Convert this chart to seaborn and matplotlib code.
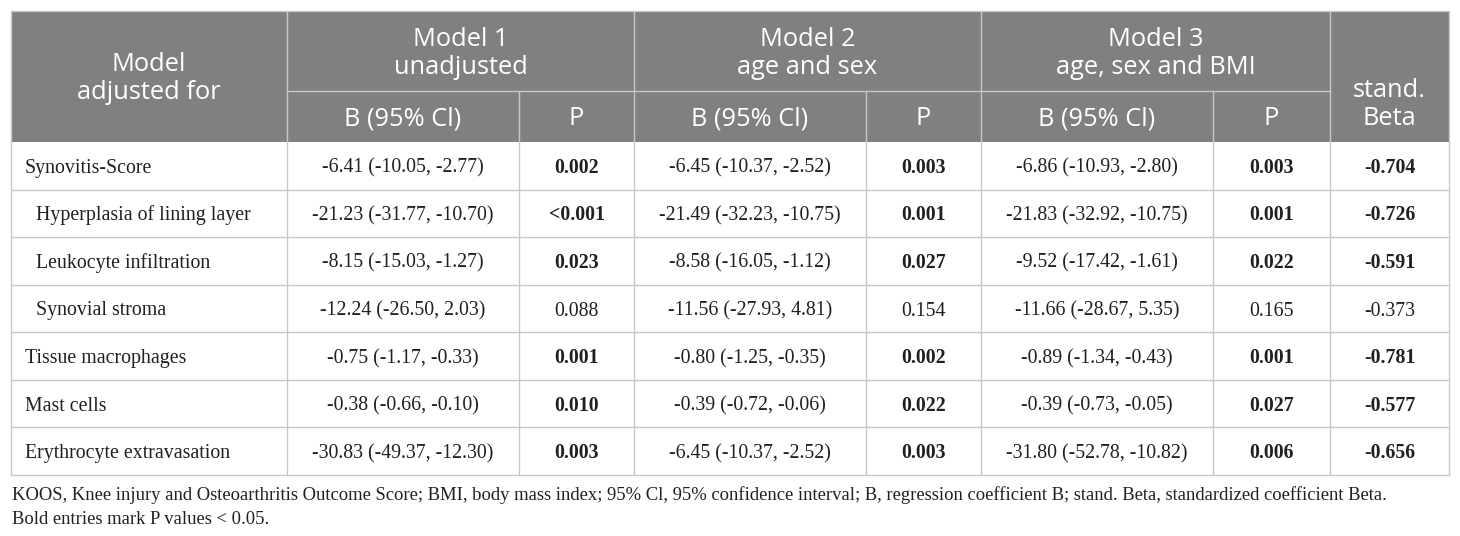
import numpy as np
import pandas as pd
import matplotlib.pyplot as plt
import seaborn as sns

# table content
variables = [
    'Synovitis-Score',
    'Hyperplasia of lining layer',
    'Leukocyte infiltration',
    'Synovial stroma',
    'Tissue macrophages',
    'Mast cells',
    'Erythrocyte extravasation',
]
indented = [False, True, True, True, False, False, False]

m1_b = ['-6.41 (-10.05, -2.77)', '-21.23 (-31.77, -10.70)', '-8.15 (-15.03, -1.27)',
        '-12.24 (-26.50, 2.03)', '-0.75 (-1.17, -0.33)', '-0.38 (-0.66, -0.10)',
        '-30.83 (-49.37, -12.30)']
m1_p = ['0.002', '<0.001', '0.023', '0.088', '0.001', '0.010', '0.003']

m2_b = ['-6.45 (-10.37, -2.52)', '-21.49 (-32.23, -10.75)', '-8.58 (-16.05, -1.12)',
        '-11.56 (-27.93, 4.81)', '-0.80 (-1.25, -0.35)', '-0.39 (-0.72, -0.06)',
        '-6.45 (-10.37, -2.52)']
m2_p = ['0.003', '0.001', '0.027', '0.154', '0.002', '0.022', '0.003']

m3_b = ['-6.86 (-10.93, -2.80)', '-21.83 (-32.92, -10.75)', '-9.52 (-17.42, -1.61)',
        '-11.66 (-28.67, 5.35)', '-0.89 (-1.34, -0.43)', '-0.39 (-0.73, -0.05)',
        '-31.80 (-52.78, -10.82)']
m3_p = ['0.003', '0.001', '0.022', '0.165', '0.001', '0.027', '0.006']

beta = ['-0.704', '-0.726', '-0.591', '-0.373', '-0.781', '-0.577', '-0.656']

first_head = ['Model', 'adjusted for']
group_labels = [['Model 1', 'unadjusted'], ['Model 2', 'age and sex'],
                ['Model 3', 'age, sex and BMI']]
sub_labels = ['B (95% Cl)', 'P']
last_head = ['stand.', 'Beta']

footnote = ['KOOS, Knee injury and Osteoarthritis Outcome Score; BMI, body mass index; '
            '95% Cl, 95% confidence interval; B, regression coefficient B; stand. Beta, '
            'standardized coefficient Beta.',
            'Bold entries mark P values < 0.05.']

df = pd.DataFrame({
    'var': variables, 'b1': m1_b, 'p1': m1_p, 'b2': m2_b, 'p2': m2_p,
    'b3': m3_b, 'p3': m3_p, 'beta': beta,
})


def is_sig(p):
    return float(p.replace('<', '')) < 0.05


sns.set_theme(style='white')
plt.rcParams['font.family'] = ['Liberation Serif', 'DejaVu Serif']

HEAD = '#808080'
GRID = '#c8c8c8'
INK = '#231f20'
SANS = ['Open Sans', 'DejaVu Sans']

fig = plt.figure(figsize=(14.6, 5.36), dpi=100)
ax = fig.add_axes([0, 0, 1, 1])
ax.set_xlim(0, 1460)
ax.set_ylim(536, 0)
ax.axis('off')

# layout (pixels)
xcol = [11, 287, 519, 634, 866, 981, 1213, 1330, 1449]
y_top, y_mid, y_head = 11, 91, 142
y_bot = 475
n = len(df)
yrow = np.linspace(y_head, y_bot, n + 1)

# header background
ax.add_patch(plt.Rectangle((xcol[0], y_top), xcol[-1] - xcol[0], y_head - y_top,
                           facecolor=HEAD, edgecolor='none', zorder=0))

lw = 1.0
# header lines
ax.plot([xcol[1], xcol[7]], [y_mid, y_mid], color=GRID, lw=lw)
for x in [xcol[1], xcol[3], xcol[5], xcol[7]]:
    ax.plot([x, x], [y_top, y_head], color=GRID, lw=lw)
for x in [xcol[2], xcol[4], xcol[6]]:
    ax.plot([x, x], [y_mid, y_head], color=GRID, lw=lw)

# body grid
for y in yrow[1:]:
    ax.plot([xcol[0], xcol[-1]], [y, y], color=GRID, lw=lw)
for x in xcol:
    ax.plot([x, x], [y_head, y_bot], color=GRID, lw=lw)
ax.plot([xcol[0], xcol[-1]], [y_top, y_top], color=GRID, lw=lw)
ax.plot([xcol[0], xcol[0]], [y_top, y_head], color=GRID, lw=lw)
ax.plot([xcol[-1], xcol[-1]], [y_top, y_head], color=GRID, lw=lw)

hfs = 18.3


def head_text(x, lines, base):
    for k, s in enumerate(lines):
        ax.text(x, base + 28 * k, s, ha='center', va='baseline', color='white',
                fontsize=hfs, family=SANS)


# header text
head_text((xcol[0] + xcol[1]) / 2, first_head, 71)
for g, lab in enumerate(group_labels):
    x0, x1 = xcol[1 + 2 * g], xcol[3 + 2 * g]
    head_text((x0 + x1) / 2, lab, 46)
    for k, s in enumerate(sub_labels):
        head_text((xcol[1 + 2 * g + k] + xcol[2 + 2 * g + k]) / 2, [s], 125)
head_text((xcol[7] + xcol[8]) / 2, last_head, 97)

# body text
bfs = 14.3
for i, r in df.iterrows():
    yb = (yrow[i] + yrow[i + 1]) / 2 + 7
    ax.text(xcol[0] + (25 if indented[i] else 14), yb, r['var'], ha='left', va='baseline',
            color=INK, fontsize=bfs)
    cells = [r['b1'], r['p1'], r['b2'], r['p2'], r['b3'], r['p3'], r['beta']]
    bold = [False, is_sig(r['p1']), False, is_sig(r['p2']), False, is_sig(r['p3']),
            is_sig(r['p3'])]
    for j, (c, b) in enumerate(zip(cells, bold)):
        ax.text((xcol[1 + j] + xcol[2 + j]) / 2, yb, c, ha='center', va='baseline',
                color=INK, fontsize=bfs, fontweight='bold' if b else 'normal')

for k, s in enumerate(footnote):
    ax.text(12, 500 + 24 * k, s, ha='left', va='baseline', color=INK, fontsize=13.45)

fig.savefig('out.png', dpi=100)
